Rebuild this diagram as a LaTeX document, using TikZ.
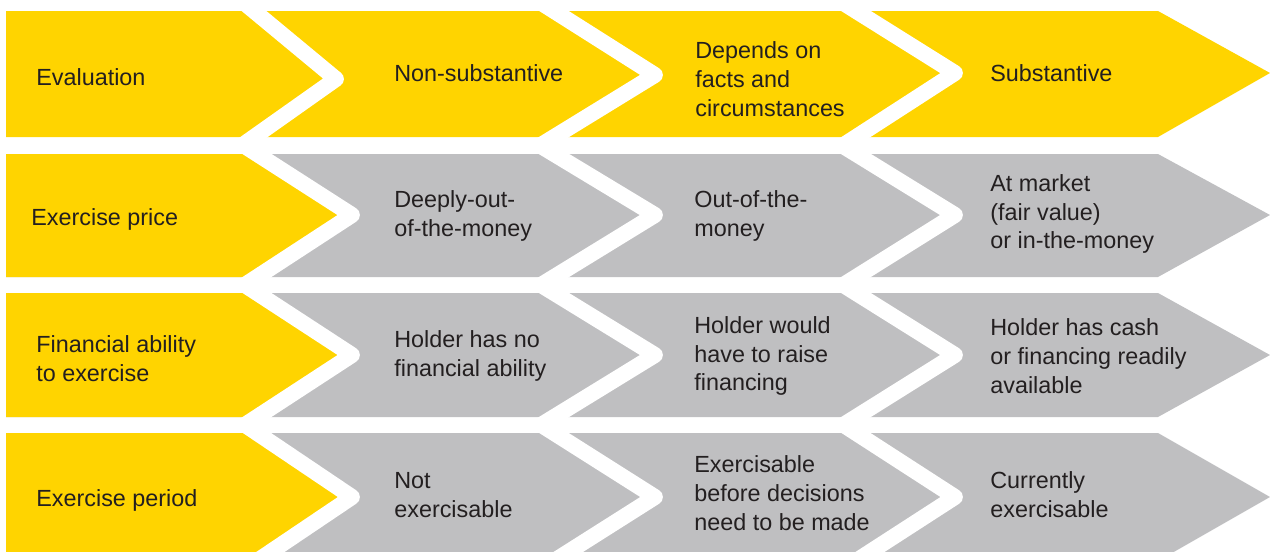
\documentclass[tikz,border=0pt]{standalone}
\usepackage{fontspec}
\setmainfont{Liberation Sans}
\usetikzlibrary{calc}
\definecolor{eyyellow}{RGB}{255,212,0}
\definecolor{eygrey}{RGB}{191,191,193}
\definecolor{ink}{RGB}{35,31,32}
\def \cellfont {\fontsize{13.3}{16.4}\selectfont}

\begin{document}
\begin{tikzpicture}[x=0.02cm, y=-0.02cm,
      cell/.style={anchor=west, align=left, inner sep=0pt, text=ink, font=\cellfont},
      gap/.style={draw=white, line width=9pt, line join=round}]
      \clip (0,0) rectangle (1270,551);
      % row 1: evaluation
      \fill[eyyellow] (6,11) -- (1158,11) -- (1270,73) -- (1158,137) -- (6,137) -- cycle;
      \begin{scope}
        \clip (0,11) rectangle (1270,137);
        \draw[gap] ($(336,79)!1.4!(254,11)$) -- (336,79) -- ($(336,79)!1.4!(254,137)$);
        \draw[gap] ($(655,75)!1.4!(554,11)$) -- (655,75) -- ($(655,75)!1.4!(554,137)$);
        \draw[gap] ($(955,73)!1.4!(856,11)$) -- (955,73) -- ($(955,73)!1.4!(856,137)$);
      \end{scope}
      % row 2: exercise price
      \fill[eygrey] (6,154) -- (1158,154) -- (1270,215) -- (1158,277) -- (6,277) -- cycle;
      \fill[eyyellow] (6,154) -- (257,154) -- (352,215) -- (257,277) -- (6,277) -- cycle;
      \begin{scope}
        \clip (0,154) rectangle (1270,277);
        \draw[gap] ($(352,215)!1.4!(257,154)$) -- (352,215) -- ($(352,215)!1.4!(257,277)$);
        \draw[gap] ($(655,215)!1.4!(554,154)$) -- (655,215) -- ($(655,215)!1.4!(554,277)$);
        \draw[gap] ($(955,215)!1.4!(856,154)$) -- (955,215) -- ($(955,215)!1.4!(856,277)$);
      \end{scope}
      % row 3: financial ability
      \fill[eygrey] (6,293) -- (1158,293) -- (1270,355) -- (1158,417) -- (6,417) -- cycle;
      \fill[eyyellow] (6,293) -- (257,293) -- (352,355) -- (257,417) -- (6,417) -- cycle;
      \begin{scope}
        \clip (0,293) rectangle (1270,417);
        \draw[gap] ($(352,355)!1.4!(257,293)$) -- (352,355) -- ($(352,355)!1.4!(257,417)$);
        \draw[gap] ($(655,355)!1.4!(554,293)$) -- (655,355) -- ($(655,355)!1.4!(554,417)$);
        \draw[gap] ($(955,355)!1.4!(856,293)$) -- (955,355) -- ($(955,355)!1.4!(856,417)$);
      \end{scope}
      % row 4: exercise period
      \fill[eygrey] (6,433) -- (1158,433) -- (1270,497) -- (1158,561) -- (6,561) -- cycle;
      \fill[eyyellow] (6,433) -- (257,433) -- (352,497) -- (257,561) -- (6,561) -- cycle;
      \begin{scope}
        \clip (0,433) rectangle (1270,561);
        \draw[gap] ($(352,497)!1.4!(257,433)$) -- (352,497) -- ($(352,497)!1.4!(257,561)$);
        \draw[gap] ($(655,497)!1.4!(554,433)$) -- (655,497) -- ($(655,497)!1.4!(554,561)$);
        \draw[gap] ($(955,497)!1.4!(856,433)$) -- (955,497) -- ($(955,497)!1.4!(856,561)$);
      \end{scope}
      % texts
      \node[cell] (evl) at (36,77) {Evaluation};
      \node[cell] (evl-non) at (394,73) {Non-substantive};
      \node[cell] (evl-dep) at (695,79) {Depends on\\facts and\\circumstances};
      \node[cell] (evl-sub) at (990,73) {Substantive};
      \node[cell] (prc) at (31,219) {Exercise price};
      \node[cell] (prc-non) at (394,216) {Deeply-out-\\of-the-money};
      \node[cell] (prc-dep) at (694,216) {Out-of-the-\\money};
      \node[cell] (prc-sub) at (990,214) {At market\\(fair value)\\or in-the-money};
      \node[cell] (fin) at (36,359) {Financial ability\\to exercise};
      \node[cell] (fin-non) at (394,356) {Holder has no\\financial ability};
      \node[cell] (fin-dep) at (694,356) {Holder would\\have to raise\\financing};
      \node[cell] (fin-sub) at (990,356) {Holder has cash\\or financing readily\\available};
      \node[cell] (per) at (36,500) {Exercise period};
      \node[cell] (per-non) at (394,495) {Not\\exercisable};
      \node[cell] (per-dep) at (694,493) {Exercisable\\before decisions\\need to be made};
      \node[cell] (per-sub) at (990,495) {Currently\\exercisable};
    \end{tikzpicture}
\end{document}
